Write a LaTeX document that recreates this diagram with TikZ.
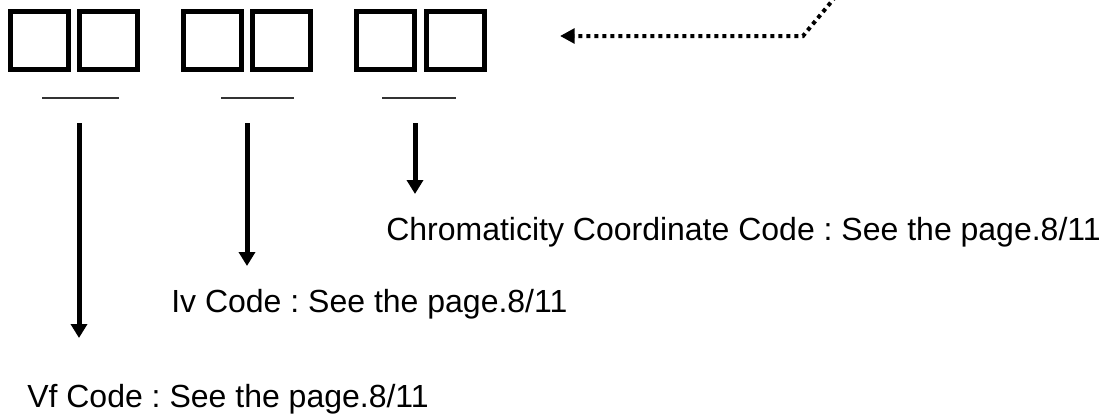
\documentclass[tikz,border=0pt]{standalone}
\usepackage{fontspec}
\setmainfont{Liberation Sans}
\usetikzlibrary{arrows.meta,positioning}
\frenchspacing

\begin{document}
\begin{tikzpicture}[
		x=0.75pt, y=-0.75pt,
		font=\fontsize{24}{28}\selectfont,
		digit/.style={draw, line width=3.75pt, minimum size=43.5pt, inner sep=0pt},
		bar/.style={line width=1.1pt, black!80},
		codearrow/.style={line width=3.75pt, -{Triangle[length=10.5pt,width=12pt]}},
		dotarrow/.style={line width=3pt, dash pattern=on 3pt off 3pt, -{Triangle[length=11pt,width=11pt]}},
		label/.style={anchor=base west, inner sep=0pt}
		]
		\useasboundingbox (0,0) rectangle (1101,414);
		
		% Code boxes
		\node[digit] (vf1) at (39,40.5) {};
		\node[digit] (vf2) at (108.5,40.5) {};
		\node[digit] (iv1) at (212,40.5) {};
		\node[digit] (iv2) at (281.5,40.5) {};
		\node[digit] (cc1) at (385.5,40.5) {};
		\node[digit] (cc2) at (455.5,40.5) {};
		
		% Underlines
		\draw[bar] (42,98) -- (119,98);
		\draw[bar] (221,98) -- (294,98);
		\draw[bar] (382,98) -- (456,98);
		
		\draw
		(79,123) coordinate (vfA)
		(79,338) coordinate (vfB)
		(247,123) coordinate (ivA)
		(247,266) coordinate (ivB)
		(415,123) coordinate (ccA)
		(415,194) coordinate (ccB)
		(851,-22) coordinate (D1)
		(803,36) coordinate (D2)
		(560,36) coordinate (D3);
		
		\draw[codearrow] (vfA) -- (vfB);
		\draw[codearrow] (ivA) -- (ivB);
		\draw[codearrow] (ccA) -- (ccB);
		
		\draw[dotarrow] (D1) -- (D2) -- (D3);
		
		\node[label] (cctext) at (386,240) {Chromaticity Coordinate Code : See the page.8/11};
		\node[label] (ivtext) at (171,312) {Iv Code : See the page.8/11};
		\node[label] (vftext) at (27,407) {Vf Code : See the page.8/11};
\end{tikzpicture}
\end{document}
